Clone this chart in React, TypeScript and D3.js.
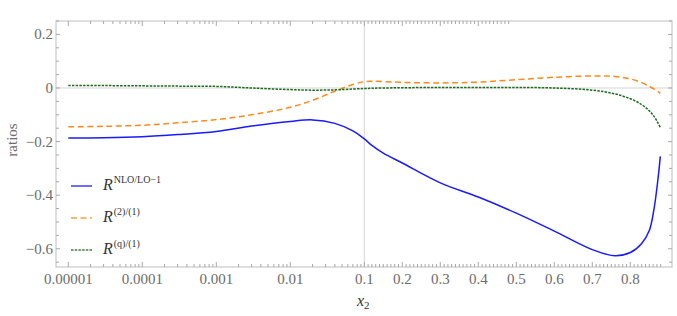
import * as d3 from 'd3'
import React from 'react'

// x2 sample points and the three ratio curves
const xs = [1e-5, 3e-5, 1e-4, 3e-4, 1e-3, 3e-3, 0.01, 0.02, 0.04, 0.07, 0.1, 0.12, 0.15, 0.2, 0.3, 0.4, 0.5, 0.6, 0.7, 0.76, 0.8, 0.83, 0.85, 0.862, 0.872, 0.879]
const nloRatio = [-0.187, -0.186, -0.182, -0.174, -0.162, -0.142, -0.125, -0.119, -0.132, -0.16, -0.19, -0.214, -0.243, -0.28, -0.354, -0.407, -0.467, -0.534, -0.603, -0.626, -0.614, -0.58, -0.532, -0.455, -0.35, -0.255]
const ratio2 = [-0.145, -0.143, -0.139, -0.13, -0.118, -0.1, -0.072, -0.046, -0.012, 0.013, 0.0235, 0.025, 0.024, 0.021, 0.019, 0.022, 0.031, 0.04, 0.045, 0.043, 0.034, 0.02, 0.006, -0.003, -0.012, -0.02]
const ratioQ = [0.009, 0.009, 0.008, 0.007, 0.006, 0.0, -0.006, -0.008, -0.007, -0.004, -0.002, -0.001, 0.0, 0.001, 0.002, 0.002, 0.002, 0.0, -0.008, -0.022, -0.04, -0.062, -0.085, -0.105, -0.128, -0.147]

const logTicks = [1e-5, 1e-4, 1e-3, 0.01, 0.1]
const logTickLabels = ['0.00001', '0.0001', '0.001', '0.01', '0.1']
const linTicks = [0.2, 0.3, 0.4, 0.5, 0.6, 0.7, 0.8]
const yTicks = [0.2, 0, -0.2, -0.4, -0.6]

const legendLabels = [
  { base: 'R', sup: 'NLO/LO\u22121' },
  { base: 'R', sup: '(2)/(1)' },
  { base: 'R', sup: '(q)/(1)' },
]

const width = 677
const height = 316
const left = 56
const right = 672
const top = 21
const bottom = 267

const serif = 'Liberation Serif, Times New Roman, serif'

const App = () => {
  // x axis: log up to 0.1, linear beyond
  const xLog = d3.scaleLog().domain([1e-5, 0.1]).range([68.3, 364.3])
  const xLin = d3.scaleLinear().domain([0.1, 0.8]).range([364.3, 630.3])
  const xPos = (v: number) => (v <= 0.1 ? xLog(v) : xLin(v))
  const y = d3.scaleLinear().domain([-0.668, 0.25]).range([bottom, top])

  const series = [
    { values: nloRatio, color: '#1a1aff', dash: null },
    { values: ratio2, color: '#ff8a1c', dash: '6,3.5' },
    { values: ratioQ, color: '#1a6b1a', dash: '2.5,1.2' },
  ]

  const line = d3.line<[number, number]>()
    .x(d => xPos(d[0]))
    .y(d => y(d[1]))
    .curve(d3.curveCatmullRom.alpha(0.5))

  // tick positions
  const xMinor: number[] = []
  for (let e = -5; e < -1; e++) {
    for (let m = 2; m <= 9; m++) xMinor.push(m * Math.pow(10, e))
  }
  for (let k = 11; k <= 88; k++) {
    if (k % 10 !== 0) xMinor.push(k / 100)
  }
  const xMajor = [...logTicks, ...linTicks]
  const yAll = d3.range(-13, 6).map(i => i * 0.05).filter(v => v >= -0.668 && v <= 0.25)

  const frame = '#bdbdbd'
  const tickColor = '#a8a8a8'
  const labelColor = '#6b6b6b'

  return (
    <svg width={width} height={height} style={{ position: 'absolute', left: 0, top: 0 }}>
      <rect x={0} y={0} width={width} height={height} fill='white' />
      {/* grid lines */}
      <line x1={xPos(0.1)} x2={xPos(0.1)} y1={top} y2={bottom} stroke='#d4d4d4' strokeWidth={1} />
      <line x1={left} x2={right} y1={y(0)} y2={y(0)} stroke='#d4d4d4' strokeWidth={1} />

      {/* curves */}
      {series.map((s, i) => (
        <path
          key={i}
          d={line(xs.map((x, j) => [x, s.values[j]] as [number, number])) || ''}
          fill='none'
          stroke={s.color}
          strokeWidth={1.5}
          strokeDasharray={s.dash || undefined}
        />
      ))}

      {/* frame */}
      <rect x={left} y={top} width={right - left} height={bottom - top} fill='none' stroke={frame} strokeWidth={1} />

      {/* x ticks */}
      {xMajor.map((v, i) => (
        <g key={'xM' + i}>
          <line x1={xPos(v)} x2={xPos(v)} y1={bottom} y2={bottom - 5} stroke={tickColor} />
          {v <= 0.48 && <line x1={xPos(v)} x2={xPos(v)} y1={top} y2={top + 5} stroke={tickColor} />}
        </g>
      ))}
      {xMinor.map((v, i) => (
        <g key={'xm' + i}>
          <line x1={xPos(v)} x2={xPos(v)} y1={bottom} y2={bottom - 3} stroke={tickColor} />
          {v <= 0.48 && <line x1={xPos(v)} x2={xPos(v)} y1={top} y2={top + 3} stroke={tickColor} />}
        </g>
      ))}

      {/* y ticks */}
      {yAll.map((v, i) => {
        const major = yTicks.some(t => Math.abs(t - v) < 1e-9)
        const len = major ? 4 : 3
        return (
          <g key={'y' + i}>
            <line x1={left} x2={left + len} y1={y(v)} y2={y(v)} stroke={tickColor} />
            <line x1={right} x2={right - len} y1={y(v)} y2={y(v)} stroke={tickColor} />
          </g>
        )
      })}

      {/* tick labels */}
      <g fontFamily={serif} fontSize={15} fill={labelColor}>
        {logTicks.map((v, i) => (
          <text key={'lx' + i} x={xPos(v)} y={284} textAnchor='middle'>{logTickLabels[i]}</text>
        ))}
        {linTicks.map((v, i) => (
          <text key={'ll' + i} x={xPos(v)} y={284} textAnchor='middle'>{v.toFixed(1)}</text>
        ))}
        {yTicks.map((v, i) => (
          <text key={'ly' + i} x={53} y={y(v) + 5} textAnchor='end'>
            {v === 0 ? '0' : (v < 0 ? '\u2212' : '') + Math.abs(v).toFixed(1)}
          </text>
        ))}
      </g>

      {/* axis labels */}
      <text
        transform={`translate(17, ${140}) rotate(-90)`}
        textAnchor='middle'
        fontFamily={serif}
        fontSize={15}
        fill={labelColor}
      >
        ratios
      </text>
      <text x={357} y={306} fontFamily={serif} fontSize={16} fontStyle='italic' fill='#333'>
        x<tspan fontStyle='normal' fontSize={11} dy={3}>2</tspan>
      </text>

      {/* legend */}
      {series.map((s, i) => {
        const ly = 186 + i * 32
        return (
          <g key={'lg' + i}>
            <line x1={71} x2={92} y1={ly} y2={ly} stroke={s.color} strokeWidth={1.5} strokeDasharray={s.dash || undefined} opacity={0.85} />
            <text x={103} y={ly + 4} fontFamily={serif} fontSize={16} fill='#333'>
              <tspan fontStyle='italic'>{legendLabels[i].base}</tspan>
              <tspan fontSize={10} dy={-7} dx={1}>{legendLabels[i].sup}</tspan>
            </text>
          </g>
        )
      })}
    </svg>
  )
}

export default App
